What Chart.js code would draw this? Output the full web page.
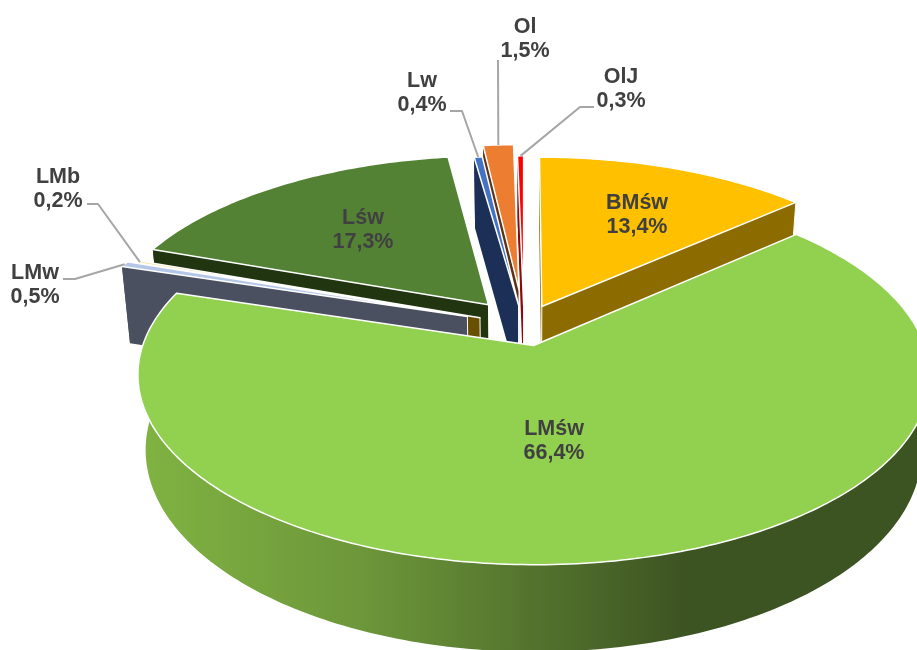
<!DOCTYPE html>
<html lang="pl">
<head>
<meta charset="utf-8">
<title>Udział typów siedliskowych</title>
<script src="https://cdn.jsdelivr.net/npm/chart.js@4/dist/chart.umd.min.js"></script>
<style>
  html, body { margin: 0; padding: 0; background: #fff; overflow: hidden; }
  canvas { display: block; }
</style>
</head>
<body>
<canvas id="pie" width="917" height="650"></canvas>
<script>
// ── Data ──────────────────────────────────────────────────────────
const labels = ['BMśw', 'LMśw', 'LMw', 'LMb', 'Lśw', 'Lw', 'Ol', 'OlJ'];
const values = [13.4, 66.4, 0.5, 0.2, 17.3, 0.4, 1.5, 0.3];

// ── Colours ───────────────────────────────────────────────────────
const topColors  = ['#FFC000', '#92D050', '#B4C7E7', '#FFD966', '#548235', '#4472C4', '#ED7D31', '#FF0000'];
const wallColors = ['#8C6C00', null, '#4A5060', '#685000', '#203510', '#1B2F57', '#5E3014', '#8B0A0A'];
const offsets    = [34, 34, 46, 36, 44, 34, 60, 34];

// ── 3D look: perspective of the pie plane ─────────────────────────
const VIEW = { xScale: 384, yScale: 178, depth: 0.156, height: 72, floorShrink: 0.98 };

// ── Label layout: text centre x, first baseline y, optional leader elbow ──
const labelPos = [
  { x: 637, y: 209 },
  { x: 554, y: 435 },
  { x: 35,  y: 279, leader: [[63, 279], [75, 279]] },
  { x: 58,  y: 183, leader: [[87, 204], [98, 204]] },
  { x: 363, y: 224 },
  { x: 422, y: 87,  leader: [[450, 111], [462, 111]] },
  { x: 525, y: 33,  leader: [[498, 60]] },
  { x: 621, y: 83,  leader: [[594, 107], [580, 107]] },
];
const LINE_HEIGHT = 24;

// ── Project a point of the pie (theta clockwise from the top) ─────
function project(arc, theta, r, floor) {
  const mid = (arc.startAngle + arc.endAngle) / 2 + Math.PI / 2;
  const e = arc.options.offset / arc.outerRadius;
  const u = r * Math.sin(theta) + e * Math.sin(mid);
  const v = r * Math.cos(theta) + e * Math.cos(mid);
  const den = 1 + VIEW.depth * v;
  let x = VIEW.xScale * u / den;
  let y = -VIEW.yScale * v / den;
  if (floor) {
    x *= VIEW.floorShrink;
    // the back half of the original reads a little taller than true perspective
    y += v >= 0 ? VIEW.height * (1.1 - 0.1 * v) : VIEW.height / den;
  }
  return { x: arc.x + x, y: arc.y + y };
}

function rimPoints(arc, floor) {
  const a0 = arc.startAngle + Math.PI / 2;
  const a1 = arc.endAngle + Math.PI / 2;
  const steps = Math.max(2, Math.ceil((a1 - a0) * 60));
  const pts = [];
  for (let i = 0; i <= steps; i++) {
    pts.push(project(arc, a0 + (a1 - a0) * i / steps, 1, floor));
  }
  return pts;
}

function fillPoly(ctx, pts, fill, border, borderWidth) {
  ctx.beginPath();
  pts.forEach((p, i) => (i ? ctx.lineTo(p.x, p.y) : ctx.moveTo(p.x, p.y)));
  ctx.closePath();
  ctx.fillStyle = fill;
  ctx.fill();
  if (borderWidth) {
    ctx.strokeStyle = border;
    ctx.lineWidth = borderWidth;
    ctx.stroke();
  }
}

function strokeEdge(ctx, a, b, color, width) {
  ctx.beginPath();
  ctx.moveTo(a.x, a.y);
  ctx.lineTo(b.x, b.y);
  ctx.strokeStyle = color;
  ctx.lineWidth = width;
  ctx.stroke();
}

function frontGradient(ctx, arc) {
  const g = ctx.createLinearGradient(arc.x - VIEW.xScale, 0, arc.x + VIEW.xScale * 0.43, 0);
  g.addColorStop(0, '#80B342');
  g.addColorStop(0.4, '#6D973A');
  g.addColorStop(1, '#3C5322');
  return g;
}

function drawSlice(ctx, arc, index) {
  const top = rimPoints(arc, false);
  const bottom = rimPoints(arc, true);
  const last = top.length - 1;
  const apexTop = project(arc, 0, 0, false);
  const apexBottom = project(arc, 0, 0, true);
  const wall = wallColors[index] || frontGradient(ctx, arc);

  // side faces, then the outer wall, then the top
  fillPoly(ctx, [apexTop, top[last], bottom[last], apexBottom], wall);
  fillPoly(ctx, top.concat(bottom.slice().reverse()), wall);
  fillPoly(ctx, [apexTop, top[0], bottom[0], apexBottom], wall);

  if (wallColors[index]) {
    strokeEdge(ctx, apexTop, apexBottom, arc.options.borderColor, 1);
    const mid = (arc.startAngle + arc.endAngle) / 2 + Math.PI / 2;
    if (Math.sin(mid) > 0) strokeEdge(ctx, top[last], bottom[last], arc.options.borderColor, 1);
  }
  fillPoly(ctx, [apexTop].concat(top), arc.options.backgroundColor, arc.options.borderColor, arc.options.borderWidth);
}

// ── Labels and leader lines ───────────────────────────────────────
function drawLabels(ctx, arcs) {
  ctx.font = 'bold 21.5px "Liberation Sans", Arial, sans-serif';
  ctx.textAlign = 'center';
  ctx.textBaseline = 'alphabetic';
  labelPos.forEach((pos, i) => {
    if (pos.leader) {
      const arc = arcs[i];
      const mid = (arc.startAngle + arc.endAngle) / 2 + Math.PI / 2;
      const end = project(arc, mid, 1, false);
      ctx.beginPath();
      pos.leader.forEach((p, k) => (k ? ctx.lineTo(p[0], p[1]) : ctx.moveTo(p[0], p[1])));
      ctx.lineTo(end.x, end.y);
      ctx.strokeStyle = '#A6A6A6';
      ctx.lineWidth = 2;
      ctx.stroke();
    }
    ctx.fillStyle = '#404040';
    ctx.fillText(labels[i], pos.x, pos.y);
    ctx.fillText(values[i].toFixed(1).replace('.', ',') + '%', pos.x, pos.y + LINE_HEIGHT);
  });
}

// ── Plugin: paints the arcs of the doughnut controller in 3D ──────
const pie3d = {
  id: 'pie3d',
  beforeDatasetsDraw(chart) {
    const ctx = chart.ctx;
    const arcs = chart.getDatasetMeta(0).data;
    const order = arcs.map((a, i) => i).sort((a, b) => {
      const midA = (arcs[a].startAngle + arcs[a].endAngle) / 2 + Math.PI / 2;
      const midB = (arcs[b].startAngle + arcs[b].endAngle) / 2 + Math.PI / 2;
      return Math.cos(midB) - Math.cos(midA);
    });
    ctx.save();
    ctx.lineJoin = 'round';
    order.forEach(i => drawSlice(ctx, arcs[i], i));
    drawLabels(ctx, arcs);
    ctx.restore();
    return false;
  },
};

// ── Chart ─────────────────────────────────────────────────────────
new Chart(document.getElementById('pie'), {
  type: 'pie',
  data: {
    labels,
    datasets: [{
      data: values,
      backgroundColor: topColors,
      borderColor: '#FFFFFF',
      borderWidth: 1.5,
      offset: offsets,
    }],
  },
  options: {
    responsive: false,
    animation: false,
    rotation: 0,
    layout: { padding: { left: 131 } },
    plugins: { legend: { display: false }, tooltip: { enabled: false } },
  },
  plugins: [pie3d],
});
</script>
</body>
</html>
